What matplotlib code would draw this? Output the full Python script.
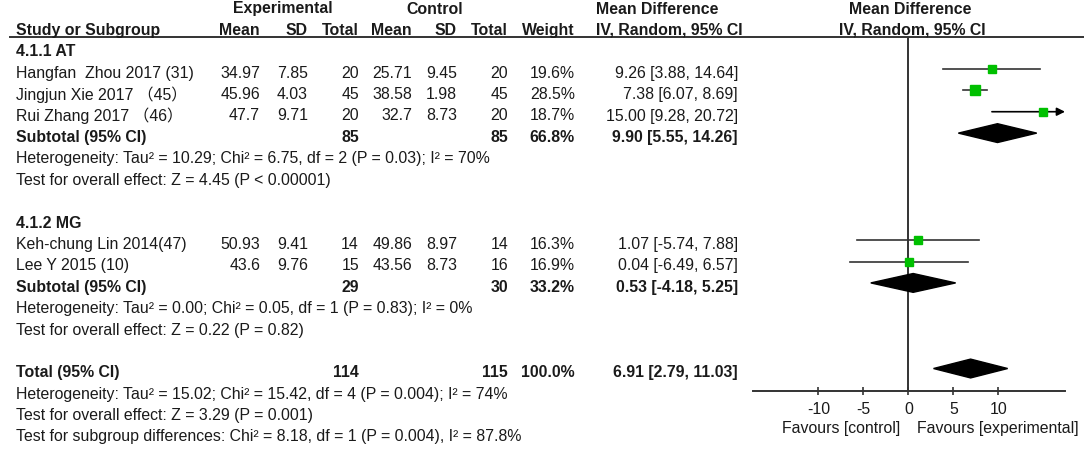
import matplotlib

matplotlib.use("Agg")
import matplotlib.pyplot as plt
from matplotlib.patches import Polygon

plt.rcParams["font.family"] = ["Liberation Sans", "Noto Sans CJK SC", "DejaVu Sans"]

W, H = 1084, 449
FS = 11.4
INK = "#1a1a1a"
LINE = "#333333"
GREEN = "#00c000"

# --- data ---
studies_at = ["Hangfan  Zhou 2017 (31)", "Jingjun Xie 2017 （45）", "Rui Zhang 2017 （46）"]
exp_mean_at = ["34.97", "45.96", "47.7"]
exp_sd_at = ["7.85", "4.03", "9.71"]
exp_n_at = [20, 45, 20]
ctl_mean_at = ["25.71", "38.58", "32.7"]
ctl_sd_at = ["9.45", "1.98", "8.73"]
ctl_n_at = [20, 45, 20]
weight_at = [19.6, 28.5, 18.7]
md_at = [9.26, 7.38, 15.00]
lo_at = [3.88, 6.07, 9.28]
hi_at = [14.64, 8.69, 20.72]

studies_mg = ["Keh-chung Lin 2014(47)", "Lee Y 2015 (10)"]
exp_mean_mg = ["50.93", "43.6"]
exp_sd_mg = ["9.41", "9.76"]
exp_n_mg = [14, 15]
ctl_mean_mg = ["49.86", "43.56"]
ctl_sd_mg = ["8.97", "8.73"]
ctl_n_mg = [14, 16]
weight_mg = [16.3, 16.9]
md_mg = [1.07, 0.04]
lo_mg = [-5.74, -6.49]
hi_mg = [7.88, 6.57]

# pooled: label, exp total, ctl total, weight, md, lo, hi
pooled_at = ("Subtotal (95% CI)", 85, 85, 66.8, 9.90, 5.55, 14.26)
pooled_mg = ("Subtotal (95% CI)", 29, 30, 33.2, 0.53, -4.18, 5.25)
pooled_all = ("Total (95% CI)", 114, 115, 100.0, 6.91, 2.79, 11.03)

het_at = ["Heterogeneity: Tau² = 10.29; Chi² = 6.75, df = 2 (P = 0.03); I² = 70%",
          "Test for overall effect: Z = 4.45 (P < 0.00001)"]
het_mg = ["Heterogeneity: Tau² = 0.00; Chi² = 0.05, df = 1 (P = 0.83); I² = 0%",
          "Test for overall effect: Z = 0.22 (P = 0.82)"]
het_all = ["Heterogeneity: Tau² = 15.02; Chi² = 15.42, df = 4 (P = 0.004); I² = 74%",
           "Test for overall effect: Z = 3.29 (P = 0.001)",
           "Test for subgroup differences: Chi² = 8.18, df = 1 (P = 0.004), I² = 87.8%"]

xticks = [-10, -5, 0, 5, 10]
xlim = (-17.3, 17.4)

# --- layout helpers (pixel space for the table) ---
ROW0, DROW = 9, 21.4


def ry(r):
    return ROW0 + DROW * r


fig = plt.figure(figsize=(W / 100, H / 100), dpi=100)
tab = fig.add_axes([0, 0, 1, 1])
tab.set_xlim(0, W)
tab.set_ylim(H, 0)
tab.axis("off")

COLS = dict(em=260, esd=308, en=359, cm=412, csd=457, cn=508, w=575, ci=738)


def txt(x, r, s, ha="left", bold=False):
    tab.text(x, ry(r), s, ha=ha, va="center", fontsize=FS, color=INK,
             fontweight="bold" if bold else "normal")


# headers
txt(283, 0, "Experimental", ha="center", bold=True)
txt(435, 0, "Control", ha="center", bold=True)
txt(596, 0, "Mean Difference", bold=True)
txt(596, 1, "IV, Random, 95% CI", bold=True)
txt(910, 0, "Mean Difference", ha="center", bold=True)
txt(912, 1, "IV, Random, 95% CI", ha="center", bold=True)
txt(16, 1, "Study or Subgroup", bold=True)
for key, lab in [("em", "Mean"), ("esd", "SD"), ("en", "Total"), ("cm", "Mean"),
                 ("csd", "SD"), ("cn", "Total"), ("w", "Weight")]:
    txt(COLS[key], 1, lab, ha="right", bold=True)
tab.plot([10, W], [37, 37], color=LINE, lw=1.4)

# forest axes
fx0, fx1 = 752.7, 1065
fy0, fy1 = 37, 391
fa = fig.add_axes([fx0 / W, 1 - fy1 / H, (fx1 - fx0) / W, (fy1 - fy0) / H])
fa.set_xlim(*xlim)
fa.set_ylim((fy1 - ROW0) / DROW, (fy0 - ROW0) / DROW)
fa.patch.set_alpha(0)
for s in ("left", "top", "right"):
    fa.spines[s].set_visible(False)
fa.spines["bottom"].set_color(LINE)
fa.spines["bottom"].set_linewidth(1.4)
fa.set_yticks([])
fa.set_xticks(xticks)
fa.set_xticklabels([str(t) for t in xticks])
fa.tick_params(axis="x", direction="inout", length=6, width=1.2, color=LINE,
               labelsize=FS, labelcolor=INK, pad=5)
fa.axvline(0, color=LINE, lw=1.4, zorder=1)

OFF = -0.2


def study_row(r, name, em, esd, en, cm, csd, cn, w, md, lo, hi):
    txt(16, r, name)
    txt(COLS["em"], r, em, ha="right")
    txt(COLS["esd"], r, esd, ha="right")
    txt(COLS["en"], r, str(en), ha="right")
    txt(COLS["cm"], r, cm, ha="right")
    txt(COLS["csd"], r, csd, ha="right")
    txt(COLS["cn"], r, str(cn), ha="right")
    txt(COLS["w"], r, f"{w:.1f}%", ha="right")
    txt(COLS["ci"], r, f"{md:.2f} [{lo:.2f}, {hi:.2f}]", ha="right")
    y = r + OFF
    if hi > xlim[1]:
        fa.annotate("", xy=(xlim[1], y), xytext=(lo, y), annotation_clip=False,
                    arrowprops=dict(arrowstyle="-|>", color="black", lw=1.2,
                                    mutation_scale=12, shrinkA=0, shrinkB=0))
    else:
        fa.plot([lo, hi], [y, y], color=LINE, lw=1.2, zorder=2)
    fa.plot([md], [y], "s", color=GREEN, ms=1.3 * w ** 0.5, mec=GREEN, zorder=3)


def pooled_row(r, p):
    lab, en, cn, w, md, lo, hi = p
    txt(16, r, lab, bold=True)
    txt(COLS["en"], r, str(en), ha="right", bold=True)
    txt(COLS["cn"], r, str(cn), ha="right", bold=True)
    txt(COLS["w"], r, f"{w:.1f}%", ha="right", bold=True)
    txt(COLS["ci"], r, f"{md:.2f} [{lo:.2f}, {hi:.2f}]", ha="right", bold=True)
    y = r + OFF
    h = 0.44
    fa.add_patch(Polygon([(lo, y), (md, y - h), (hi, y), (md, y + h)],
                         closed=True, color="black", zorder=3))


# subgroup AT
txt(16, 2, "4.1.1 AT", bold=True)
for i in range(len(studies_at)):
    study_row(3 + i, studies_at[i], exp_mean_at[i], exp_sd_at[i], exp_n_at[i],
              ctl_mean_at[i], ctl_sd_at[i], ctl_n_at[i], weight_at[i],
              md_at[i], lo_at[i], hi_at[i])
pooled_row(6, pooled_at)
txt(16, 7, het_at[0])
txt(16, 8, het_at[1])

# subgroup MG
txt(16, 10, "4.1.2 MG", bold=True)
for i in range(len(studies_mg)):
    study_row(11 + i, studies_mg[i], exp_mean_mg[i], exp_sd_mg[i], exp_n_mg[i],
              ctl_mean_mg[i], ctl_sd_mg[i], ctl_n_mg[i], weight_mg[i],
              md_mg[i], lo_mg[i], hi_mg[i])
pooled_row(13, pooled_mg)
txt(16, 14, het_mg[0])
txt(16, 15, het_mg[1])

# overall
pooled_row(17, pooled_all)
for k, s in enumerate(het_all):
    txt(16, 18 + k, s)

txt(900, 19.6, "Favours [control]", ha="right")
txt(917, 19.6, "Favours [experimental]")

fig.savefig("out.png", dpi=100)
